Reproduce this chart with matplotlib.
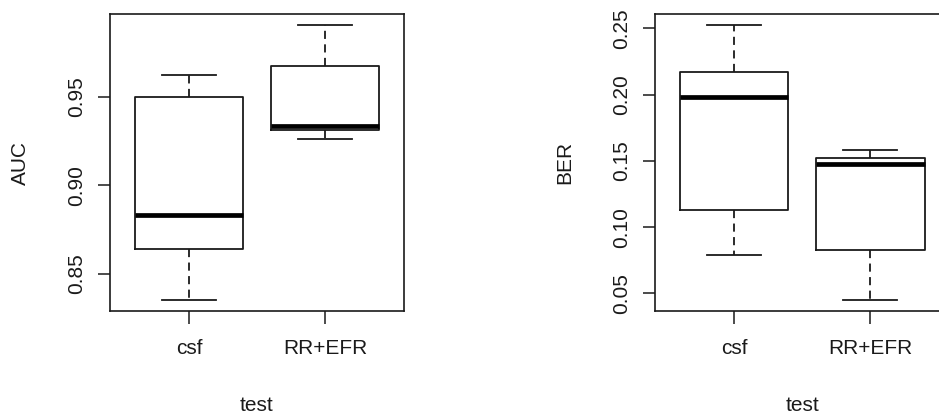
import matplotlib
matplotlib.use("Agg")
import matplotlib.pyplot as plt

plt.rcParams["font.family"] = ["Liberation Sans", "DejaVu Sans"]

groups = ["csf", "RR+EFR"]

# AUC: five-number summaries
auc_lo = [0.8353, 0.9264]
auc_q1 = [0.8642, 0.9311]
auc_med = [0.8836, 0.9336]
auc_q3 = [0.9500, 0.9677]
auc_hi = [0.9624, 0.9905]
auc_ticks = [0.85, 0.90, 0.95]

# BER
ber_lo = [0.0791, 0.0450]
ber_q1 = [0.1126, 0.0827]
ber_med = [0.1982, 0.1480]
ber_q3 = [0.2168, 0.1523]
ber_hi = [0.2523, 0.1583]
ber_ticks = [0.05, 0.10, 0.15, 0.20, 0.25]

INK = "#1a1a1a"
FS = 15


def draw_box(ax, lo, q1, med, q3, hi, ticks, ylabel):
    stats = []
    for i in range(len(groups)):
        stats.append({"whislo": lo[i], "q1": q1[i], "med": med[i],
                      "q3": q3[i], "whishi": hi[i], "label": groups[i]})
    ax.bxp(stats, positions=[1, 2], widths=0.8, capwidths=0.4,
           showfliers=False,
           boxprops=dict(color=INK, linewidth=1.3),
           medianprops=dict(color="black", linewidth=3.4, solid_capstyle="butt"),
           whiskerprops=dict(color=INK, linewidth=1.3, linestyle=(0, (4.5, 3))),
           capprops=dict(color=INK, linewidth=1.3))

    # R style axis limits: 4% padding around the data
    span = max(hi) - min(lo)
    ax.set_ylim(min(lo) - 0.04 * span, max(hi) + 0.04 * span)
    ax.set_xlim(0.5 - 0.08, 2.5 + 0.08)

    ax.set_yticks(ticks)
    ax.set_yticklabels(["%.2f" % t for t in ticks], rotation=90, va="center")
    ax.set_xticks([1, 2])
    ax.set_xticklabels(groups)
    ax.tick_params(axis="both", length=9, width=1.1, color=INK,
                   labelsize=FS, labelcolor=INK)
    ax.tick_params(axis="y", pad=8)
    ax.tick_params(axis="x", pad=11)
    for s in ax.spines.values():
        s.set_color(INK)
        s.set_linewidth(1.2)

    ax.set_ylabel(ylabel, fontsize=FS, color=INK)
    ax.yaxis.label.set(ha="center", va="center", rotation_mode="default")
    ax.yaxis.set_label_coords(-0.306, 0.5)
    ax.set_xlabel("test", fontsize=FS, color=INK)
    ax.xaxis.label.set(ha="center", va="center")
    ax.xaxis.set_label_coords(0.5, -0.317)


fig = plt.figure(figsize=(9.39, 4.16), dpi=100)
ax1 = fig.add_axes([110 / 939, 105 / 416, 294 / 939, 296.7 / 416])
ax2 = fig.add_axes([655 / 939, 105 / 416, 294 / 939, 296.7 / 416])

draw_box(ax1, auc_lo, auc_q1, auc_med, auc_q3, auc_hi, auc_ticks, "AUC")
draw_box(ax2, ber_lo, ber_q1, ber_med, ber_q3, ber_hi, ber_ticks, "BER")

fig.savefig("out.png", dpi=100)
plt.close(fig)
